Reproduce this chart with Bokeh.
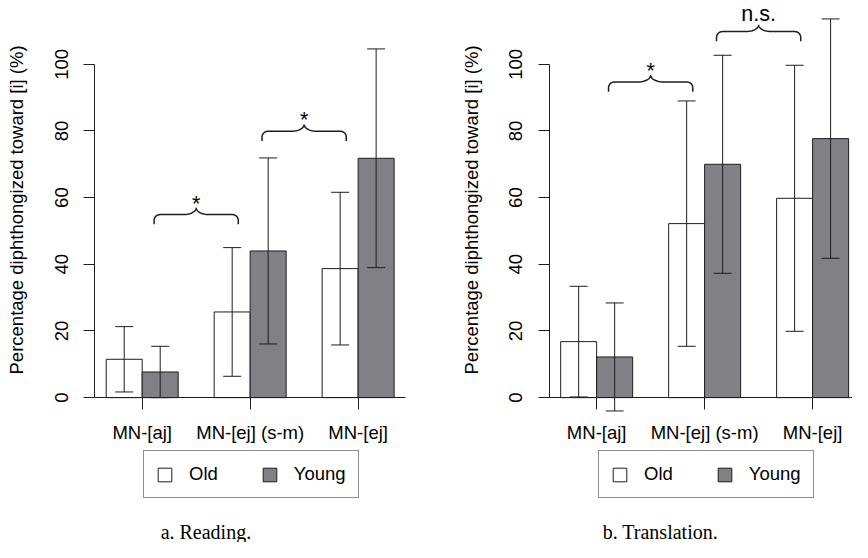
import math
from bokeh.plotting import figure
from bokeh.models import LinearAxis, FixedTicker, Range1d, Legend, LegendItem
from bokeh.layouts import row
from bokeh.embed import file_html
from bokeh.resources import INLINE
from bokeh.core.properties import value

# ---------------- data ----------------
groups = ["MN-[aj]", "MN-[ej] (s-m)", "MN-[ej]"]
series = ["Old", "Young"]

reading_old = [11.5, 25.7, 38.7]
reading_old_err = [9.8, 19.3, 22.9]
reading_young = [7.7, 44.0, 71.8]
reading_young_err = [7.7, 27.9, 32.8]

translation_old = [16.8, 52.2, 59.8]
translation_old_err = [16.6, 36.8, 39.9]
translation_young = [12.2, 70.0, 77.7]
translation_young_err = [16.2, 32.7, 35.9]

y_ticks = [0, 20, 40, 60, 80, 100]

reading_sig = ["*", "*"]
reading_brace_level = [54.9, 79.9]
translation_sig = ["*", "n.s."]
translation_brace_level = [94.7, 109.8]

captions = ["a. Reading.", "b. Translation."]
y_title = "Percentage diphthongized toward [i] (%)"

# ---------------- style / layout ----------------
LINE = "#1e1e1e"
GREY = "#808085"
SANS = "Liberation Sans"
SERIF = "Liberation Serif"
TOTAL_W, TOTAL_H = 852, 542
S_X, S_Y = TOTAL_W / 868.0, TOTAL_H / 558.0
W = TOTAL_W // 2
H = TOTAL_H
PX_X = (110 / 3.0) * S_X      # px per x unit
PX_Y = 3.432 * S_Y            # px per y unit
Y_TOP = 119.13


def brace(xc, half_w, base):
    drop = 10 * S_Y / PX_Y
    rcx, rcy = 6 * S_X / PX_X, 6 * S_Y / PX_Y
    mw, mh = 13 * S_X / PX_X, 7 * S_Y / PX_Y
    xl, xr = xc - half_w, xc + half_w
    xs, ys = [xl], [base - drop]
    n = 12
    for k in range(n + 1):
        t = math.pi - k * (math.pi / 2) / n
        xs.append(xl + rcx + rcx * math.cos(t)); ys.append(base - rcy + rcy * math.sin(t))
    for k in range(n + 1):
        t = -math.pi / 2 + k * (math.pi / 2) / n
        xs.append(xc - mw + mw * math.cos(t)); ys.append(base + mh + mh * math.sin(t))
    for k in range(n + 1):
        t = math.pi + k * (math.pi / 2) / n
        xs.append(xc + mw + mw * math.cos(t)); ys.append(base + mh + mh * math.sin(t))
    for k in range(n + 1):
        t = math.pi / 2 - k * (math.pi / 2) / n
        xs.append(xr - rcx + rcx * math.cos(t)); ys.append(base - rcy + rcy * math.sin(t))
    xs.append(xr); ys.append(base - drop)
    return xs, ys


def panel(old, old_err, young, young_err, levels, sigs, caption, x_start, legend_x):
    xr = Range1d(x_start, x_start + W / PX_X)
    yr = Range1d(Y_TOP - H / PX_Y, Y_TOP)
    p = figure(width=W, height=H, x_range=xr, y_range=yr, output_backend="svg",
               toolbar_location=None, x_axis_type=None, y_axis_type=None,
               min_border=0, outline_line_color=None)
    p.background_fill_color = "white"
    p.border_fill_color = "white"

    centers = [2 + 3 * i for i in range(len(groups))]
    old_x = [c - 0.5 for c in centers]
    young_x = [c + 0.5 for c in centers]

    r_old = p.vbar(x=old_x, top=old, bottom=0, width=1, fill_color="white",
                   line_color=LINE, line_width=1)
    r_young = p.vbar(x=young_x, top=young, bottom=0, width=1, fill_color=GREY,
                     line_color=LINE, line_width=1)

    cap = 0.25
    for xs, vals, errs in ((old_x, old, old_err), (young_x, young, young_err)):
        lo = [v - e for v, e in zip(vals, errs)]
        hi = [v + e for v, e in zip(vals, errs)]
        p.segment(x0=xs, y0=lo, x1=xs, y1=hi, line_color=LINE, line_width=1)
        p.segment(x0=[x - cap for x in xs], y0=hi, x1=[x + cap for x in xs], y1=hi,
                  line_color=LINE, line_width=1)
        p.segment(x0=[x - cap for x in xs], y0=lo, x1=[x + cap for x in xs], y1=lo,
                  line_color=LINE, line_width=1)

    bxs, bys, tx, ty = [], [], [], []
    off = {"*": 4.3 * S_Y / PX_Y, "n.s.": 11 * S_Y / PX_Y}
    for i, (lev, s) in enumerate(zip(levels, sigs)):
        xc = (centers[i] + centers[i + 1]) / 2
        xs, ys = brace(xc, 1.17, lev)
        bxs.append(xs); bys.append(ys)
        tx.append(xc); ty.append(lev + 7 * S_Y / PX_Y + off[s])
    p.multi_line(xs=bxs, ys=bys, line_color=LINE, line_width=1.5)
    p.text(x=tx, y=ty, text=sigs, text_font=value(SANS), text_font_size="21.5px",
           text_align="center", text_baseline="alphabetic", text_color="black")

    xaxis = LinearAxis(fixed_location=0, ticker=FixedTicker(ticks=centers),
                       bounds=(0.68, 9.32),
                       major_label_overrides={c: g for c, g in zip(centers, groups)},
                       major_tick_out=12, major_tick_in=0, minor_tick_out=0, minor_tick_in=0,
                       major_label_standoff=12, axis_line_color=LINE, major_tick_line_color=LINE,
                       major_label_text_font=SANS, major_label_text_font_size="18.5px",
                       major_label_text_color="black")
    p.add_layout(xaxis, "below")
    yaxis = LinearAxis(fixed_location=0.68, ticker=FixedTicker(ticks=y_ticks), bounds=(0, 100),
                       major_label_orientation="parallel",
                       major_tick_out=11, major_tick_in=0, minor_tick_out=0, minor_tick_in=0,
                       major_label_standoff=16, axis_line_color=LINE, major_tick_line_color=LINE,
                       major_label_text_font=SANS, major_label_text_font_size="18.5px",
                       major_label_text_color="black")
    p.add_layout(yaxis, "left")

    p.text(x=[-1.49], y=[56.3], text=[y_title], angle=math.pi / 2, text_font=value(SANS),
           text_font_size="18.5px", text_align="center", text_baseline="middle",
           text_color="black")

    p.text(x=[3.77], y=[-40.2], text=[caption], text_font=value(SERIF), text_font_size="20px",
           text_align="center", text_baseline="alphabetic", text_color="black")

    legend = Legend(items=[LegendItem(label=series[0], renderers=[r_old]),
                           LegendItem(label=series[1], renderers=[r_young])],
                    orientation="horizontal", location=(legend_x, 44), glyph_width=17,
                    glyph_height=17, label_standoff=16, spacing=43, padding=12, margin=0,
                    border_line_color=LINE, border_line_width=1, background_fill_alpha=1,
                    label_text_font=SANS, label_text_font_size="18.5px",
                    label_text_color="black")
    p.add_layout(legend)
    return p


p1 = panel(reading_old, reading_old_err, reading_young, reading_young_err,
           reading_brace_level, reading_sig, captions[0], -1.937, 143)
p2 = panel(translation_old, translation_old_err, translation_young, translation_young_err,
           translation_brace_level, translation_sig, captions[1], -2.728, 172)

layout = row(p1, p2)
open("out.html", "w").write(file_html(layout, INLINE))
